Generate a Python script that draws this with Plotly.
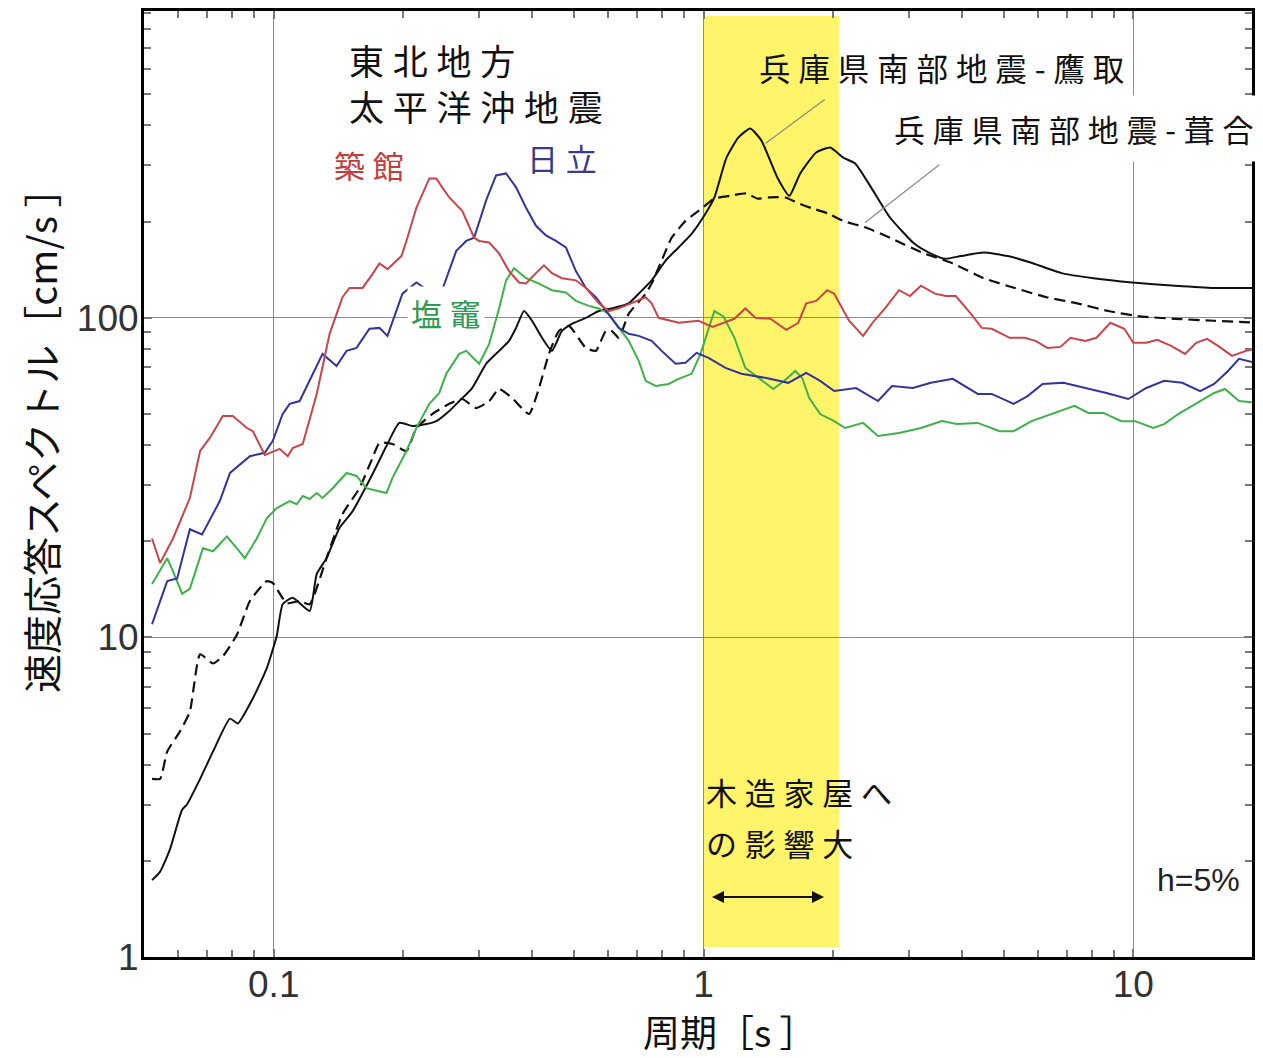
import math
import plotly.graph_objects as go

# ---------------- data (period [s], velocity response [cm/s]) ----------------
tsukidate_T = [0.0521, 0.0544, 0.0583, 0.0638, 0.0674, 0.0710, 0.0761, 0.0803, 0.0866, 0.0894,
               0.0953, 0.1032, 0.1078, 0.1107, 0.1168, 0.1259, 0.1349, 0.1445, 0.1500, 0.1609,
               0.1697, 0.1762, 0.1839, 0.1982, 0.2036, 0.2147, 0.2301, 0.2389, 0.2466, 0.2561,
               0.2745, 0.2926, 0.3006, 0.3171, 0.3344, 0.3528, 0.3722, 0.3864, 0.4076, 0.4254,
               0.4439, 0.4683, 0.5047, 0.5324, 0.5707, 0.6020, 0.6350, 0.6807, 0.7335, 0.7574,
               0.7862, 0.8747, 0.9737, 1.049, 1.180, 1.251, 1.320, 1.431, 1.558, 1.661,
               1.734, 1.829, 1.940, 2.014, 2.181, 2.351, 2.494, 2.644, 2.850, 3.022,
               3.205, 3.454, 3.664, 3.864, 4.188, 4.440, 4.684, 5.158, 5.586, 5.924,
               6.317, 6.771, 7.142, 7.738, 8.206, 8.845, 9.531, 10.0, 10.72, 11.37,
               12.25, 13.20, 14.00, 14.85, 15.75, 16.97, 18.29, 19.71]
tsukidate_V = [20.4, 17.1, 20.4, 27.3, 38.3, 42.1, 49.3, 49.3, 45.2, 44.2,
               37.2, 38.9, 36.9, 39.1, 40.3, 57.8, 89.1, 116, 124, 124,
               137, 148, 142, 156, 174, 221, 273, 273, 256, 238,
               216, 178, 174, 172, 159, 140, 129, 128, 138, 146,
               138, 133, 131, 124, 111, 105, 107, 111, 116, 111,
               100, 96.5, 97.9, 93.7, 99.3, 107, 100, 99.3, 91.7, 96.5,
               111, 113, 122, 119, 97.9, 87.8, 97.9, 107, 122, 117,
               126, 119, 117, 117, 103, 93.0, 92.4, 86.6, 86.6, 84.7,
               80.5, 81.1, 86.6, 84.7, 86.6, 96.5, 92.4, 83.5, 83.5, 85.3,
               81.7, 77.1, 83.5, 85.9, 81.7, 76.0, 78.8, 80.5]

hitachi_T = [0.0521, 0.0565, 0.0596, 0.0638, 0.0681, 0.0749, 0.0791, 0.0880, 0.0953, 0.0995,
             0.1049, 0.1089, 0.1149, 0.1299, 0.1400, 0.1477, 0.1558, 0.1670, 0.1762, 0.1839,
             0.1993, 0.2147, 0.2241, 0.2453, 0.2659, 0.2805, 0.2926, 0.3120, 0.3291, 0.3472,
             0.3663, 0.3864, 0.4076, 0.4299, 0.4535, 0.4784, 0.5047, 0.5324, 0.5616, 0.5925,
             0.6350, 0.6699, 0.7067, 0.7574, 0.7990, 0.8610, 0.9083, 0.9634, 1.027, 1.125,
             1.225, 1.400, 1.575, 1.734, 1.868, 2.014, 2.265, 2.547, 2.745, 3.070,
             3.381, 3.802, 4.346, 4.684, 5.269, 5.676, 6.151, 6.880, 7.738, 8.658,
             9.737, 10.72, 11.80, 13.00, 14.31, 15.42, 16.61, 17.62, 19.71]
hitachi_V = [11.0, 15.0, 15.3, 21.8, 21.0, 26.7, 32.7, 36.9, 37.8, 41.2,
             50.0, 53.8, 54.9, 77.1, 70.7, 78.8, 80.5, 92.4, 93.0, 87.8,
             119, 129, 124, 120, 162, 174, 178, 233, 279, 283,
             256, 221, 194, 181, 174, 166, 140, 124, 116, 105,
             93.0, 89.1, 87.8, 84.7, 78.8, 71.8, 72.3, 77.7, 74.9, 69.7,
             66.8, 64.8, 62.6, 67.3, 63.5, 59.0, 60.3, 54.9, 61.2, 60.3,
             62.6, 64.4, 57.8, 57.8, 53.8, 56.9, 62.1, 62.6, 60.3, 58.2,
             55.7, 60.3, 63.5, 62.6, 59.0, 62.1, 68.2, 74.4, 71.8]

shiogama_T = [0.0521, 0.0565, 0.0583, 0.0612, 0.0638, 0.0684, 0.0722, 0.0778, 0.0821, 0.0856,
              0.0913, 0.0963, 0.1016, 0.1089, 0.1131, 0.1168, 0.1212, 0.1259, 0.1299, 0.1371,
              0.1477, 0.1558, 0.1643, 0.1829, 0.1888, 0.2036, 0.2147, 0.2301, 0.2427, 0.2520,
              0.2702, 0.2805, 0.3006, 0.3171, 0.3344, 0.3472, 0.3624, 0.3864, 0.4142, 0.4439,
              0.4784, 0.5047, 0.5410, 0.5707, 0.6020, 0.6350, 0.6699, 0.7067, 0.7335, 0.7738,
              0.8294, 0.8747, 0.9380, 0.984, 1.027, 1.060, 1.113, 1.180, 1.251, 1.349,
              1.453, 1.542, 1.635, 1.697, 1.762, 1.868, 2.014, 2.135, 2.351, 2.547,
              2.850, 3.205, 3.586, 3.885, 4.346, 4.888, 5.269, 5.799, 6.488, 7.297,
              7.863, 8.520, 9.380, 10.11, 11.13, 11.80, 12.72, 14.31, 15.42, 16.35,
              17.62, 19.71]
shiogama_V = [14.7, 17.7, 16.1, 13.7, 14.2, 19.0, 18.6, 20.7, 19.0, 17.7,
              20.4, 23.6, 25.4, 26.7, 26.1, 27.7, 27.1, 28.3, 27.3, 29.3,
              32.7, 32.0, 29.3, 28.3, 31.5, 38.3, 45.2, 53.8, 58.2, 66.8,
              77.1, 78.8, 71.8, 82.9, 107, 131, 143, 133, 128, 122,
              120, 113, 109, 107, 103, 93.0, 84.7, 73.3, 63.5, 61.2,
              62.1, 64.4, 66.8, 77.1, 93.0, 105, 101, 86.6, 69.7, 64.4,
              59.9, 63.5, 68.2, 64.8, 56.1, 50.0, 47.5, 45.2, 46.9, 42.7,
              43.6, 45.2, 47.5, 46.5, 46.9, 44.2, 44.2, 47.5, 50.0, 53.0,
              50.4, 50.4, 47.5, 47.5, 45.2, 46.5, 50.0, 54.9, 58.2, 59.9,
              54.9, 54.1]

takatori_T = [0.0521, 0.0544, 0.0574, 0.0612, 0.0628, 0.0674, 0.0722, 0.0791, 0.0825, 0.0894,
              0.0963, 0.1016, 0.1049, 0.1107, 0.1212, 0.1259, 0.1327, 0.1422, 0.1525, 0.1697,
              0.1829, 0.1960, 0.2102, 0.2265, 0.2389, 0.2561, 0.2702, 0.2895, 0.3120, 0.3344,
              0.3528, 0.3663, 0.3823, 0.3990, 0.4209, 0.4439, 0.4683, 0.4940, 0.5324, 0.5707,
              0.6117, 0.6699, 0.7067, 0.7574, 0.8162, 0.8747, 0.9380, 1.011, 1.060, 1.131,
              1.206, 1.285, 1.363, 1.485, 1.584, 1.679, 1.829, 1.971, 2.113, 2.253,
              2.454, 2.716, 3.087, 3.345, 3.644, 3.969, 4.487, 5.103, 5.768, 6.807,
              8.075, 9.947, 12.52, 15.42, 19.71]
takatori_V = [1.74, 1.85, 2.18, 2.89, 3.0, 3.61, 4.39, 5.57, 5.38, 6.44,
              8.0, 10.1, 12.7, 13.3, 12.1, 15.8, 17.7, 22.0, 24.8, 32.4,
              39.7, 46.9, 45.9, 46.5, 47.5, 51.1, 54.9, 60.3, 71.8, 78.8,
              84.7, 93.0, 105, 97.9, 86.6, 78.8, 91.0, 95.8, 100, 105,
              107, 111, 119, 131, 151, 166, 183, 212, 238, 317,
              367, 391, 359, 275, 241, 283, 329, 341, 317, 304,
              256, 206, 171, 160, 153, 156, 160, 156, 149, 138,
              133, 129, 126, 124, 124]

fukiai_T = [0.0521, 0.0544, 0.0565, 0.0605, 0.0638, 0.0674, 0.0722, 0.0761, 0.0821, 0.0880,
            0.0963, 0.0995, 0.1072, 0.1149, 0.1212, 0.1327, 0.1445, 0.1583, 0.1697, 0.1762,
            0.1888, 0.2036, 0.2147, 0.2338, 0.2561, 0.2745, 0.2958, 0.3171, 0.3344, 0.3585,
            0.3926, 0.4142, 0.4368, 0.4609, 0.4861, 0.5324, 0.5616, 0.5925, 0.6117, 0.6350,
            0.6699, 0.7335, 0.7574, 0.7990, 0.8430, 0.9083, 0.9737, 1.060, 1.155, 1.258,
            1.335, 1.423, 1.550, 1.652, 1.790, 1.950, 2.113, 2.402, 2.716, 3.222,
            3.802, 4.487, 5.297, 6.283, 7.415, 8.750, 10.38, 12.52, 15.42, 19.71]
fukiai_V = [3.61, 3.61, 4.39, 5.08, 5.86, 8.85, 8.29, 8.72, 10.2, 13.0,
            15.0, 14.8, 12.8, 13.0, 12.7, 17.7, 24.3, 29.3, 36.4, 40.6,
            40.3, 38.3, 45.2, 50.0, 53.8, 55.7, 52.2, 54.9, 59.9, 56.1,
            50.0, 60.3, 77.1, 91.0, 94.4, 80.5, 78.8, 91.0, 91.0, 86.6,
            103, 119, 128, 151, 178, 201, 216, 236, 241, 245,
            236, 238, 238, 229, 220, 212, 201, 191, 178, 160,
            148, 133, 124, 116, 111, 105, 101, 99.3, 97.9, 96.5]

x_tickvals = [0.1, 1, 10]
x_ticktext = ["0.1", "1", "10"]
y_tickvals = [1, 10, 100]
y_ticktext = ["1", "10", "100"]
x_minor = [0.06, 0.07, 0.08, 0.09, 0.2, 0.3, 0.4, 0.5, 0.6, 0.7, 0.8, 0.9,
           2, 3, 4, 5, 6, 7, 8, 9]
y_minor = [2, 3, 4, 5, 6, 7, 8, 9, 20, 30, 40, 50, 60, 70, 80, 90,
           200, 300, 400, 500, 600, 700, 800, 900]

# ---------------- styling ----------------
RED = "#c8454a"
BLUE = "#34349a"
GREEN = "#3fb14a"
BLACK = "#111111"
CJK = "Noto Sans CJK JP"
LAT = "Liberation Sans, Arial, sans-serif"
SP = "\u2005"


def spaced(s):
    return SP.join(list(s))


fig = go.Figure()

fig.add_trace(go.Scatter(x=fukiai_T, y=fukiai_V, mode="lines",
                         line=dict(color=BLACK, width=2.2, dash="11px,6px", shape="spline", smoothing=0.5),
                         showlegend=False))
fig.add_trace(go.Scatter(x=takatori_T, y=takatori_V, mode="lines",
                         line=dict(color=BLACK, width=2, shape="spline", smoothing=0.5),
                         showlegend=False))
fig.add_trace(go.Scatter(x=shiogama_T, y=shiogama_V, mode="lines",
                         line=dict(color=GREEN, width=2), showlegend=False))
fig.add_trace(go.Scatter(x=hitachi_T, y=hitachi_V, mode="lines",
                         line=dict(color=BLUE, width=2), showlegend=False))
fig.add_trace(go.Scatter(x=tsukidate_T, y=tsukidate_V, mode="lines",
                         line=dict(color=RED, width=2), showlegend=False))

# yellow band (period 1-2 s) drawn beneath grid lines
fig.add_shape(type="rect", xref="x", yref="y", x0=1.0, x1=2.07, y0=1.075, y1=880,
              fillcolor="#fff46a", line=dict(width=0), layer="below")

L = math.log10
annots = [
    dict(x=L(0.148), y=L(644), text=spaced("東北地方"), xanchor="left", size=35, color=BLACK),
    dict(x=L(0.148), y=L(462), text=spaced("太平洋沖地震"), xanchor="left", size=35, color=BLACK),
    dict(x=L(0.167), y=L(302), text=spaced("築館"), xanchor="center", size=31, color="#c0403f"),
    dict(x=L(0.468), y=L(317), text=spaced("日立"), xanchor="center", size=31, color="#3a3a8a"),
    dict(x=L(1.335), y=L(608), text=spaced("兵庫県南部地震") + SP + "-" + SP + spaced("鷹取"),
         xanchor="left", size=31.5, color=BLACK),
    dict(x=L(1.0), y=L(3.29), text=spaced("木造家屋へ"), xanchor="left", size=31, color=BLACK),
    dict(x=L(1.0), y=L(2.29), text=spaced("の影響大"), xanchor="left", size=31, color=BLACK),
]
for a in annots:
    fig.add_annotation(x=a["x"], y=a["y"], xref="x", yref="y", text=a["text"], showarrow=False,
                       xanchor=a["xanchor"], yanchor="middle",
                       font=dict(family=CJK, size=a["size"], color=a["color"]))

# labels with a white box behind them
fig.add_annotation(x=L(0.252), y=L(104), xref="x", yref="y", text=spaced("塩竈"), showarrow=False,
                   xanchor="center", yanchor="middle", bgcolor="white", borderpad=3,
                   font=dict(family=CJK, size=31, color="#2e9a55"))
fig.add_annotation(x=L(2.62), y=L(391), xref="x", yref="y",
                   text=spaced("兵庫県南部地震") + SP + "-" + SP + spaced("葺合"), showarrow=False,
                   xanchor="left", yanchor="middle", bgcolor="white", borderpad=10,
                   font=dict(family=CJK, size=31, color=BLACK))

fig.add_annotation(x=L(17.9), y=L(1.74), xref="x", yref="y", text="h=5%", showarrow=False,
                   xanchor="right", yanchor="middle",
                   font=dict(family=LAT, size=32, color="#222222"))

# leader lines
fig.add_annotation(x=L(1.393), y=L(351), ax=L(1.930), ay=L(486), xref="x", yref="y",
                   axref="x", ayref="y", text="", showarrow=True, arrowhead=0,
                   arrowwidth=1.2, arrowcolor="#8a8a8a")
fig.add_annotation(x=L(2.376), y=L(198.6), ax=L(3.566), ay=L(304), xref="x", yref="y",
                   axref="x", ayref="y", text="", showarrow=True, arrowhead=0,
                   arrowwidth=1.2, arrowcolor="#8a8a8a")

# double-headed arrow for the 1-2 s range
fig.add_annotation(x=L(1.907), y=L(1.54), ax=L(1.038), ay=L(1.54), xref="x", yref="y",
                   axref="x", ayref="y", text="", showarrow=True, arrowhead=2,
                   arrowside="end+start", arrowsize=1.2, arrowwidth=2, arrowcolor=BLACK)

# axis titles
fig.add_annotation(x=0.529, y=-0.0785, xref="paper", yref="paper", text="周期［s ］",
                   showarrow=False, xanchor="center", yanchor="middle",
                   font=dict(family=CJK, size=37, color=BLACK))
fig.add_annotation(x=-0.094, y=0.557, xref="paper", yref="paper",
                   text="速度応答スペクトル［cm/s ］", textangle=-90,
                   showarrow=False, xanchor="center", yanchor="middle",
                   font=dict(family=CJK, size=39, color=BLACK))

axis_common = dict(
    type="log", showline=True, linecolor="black", linewidth=3, mirror="allticks",
    ticks="inside", ticklen=8, tickwidth=1.5, tickcolor="#777777",
    showgrid=True, gridcolor="#8c8c8c", gridwidth=1.2, zeroline=False,
    tickfont=dict(family=LAT, size=37, color="#333333"),
    tickmode="array",
)
fig.update_xaxes(**axis_common, range=[L(0.0499), L(18.89)], tickvals=x_tickvals, ticktext=x_ticktext,
                 ticklabelstandoff=-7,
                 minor=dict(tickmode="array", tickvals=x_minor, ticks="inside", ticklen=7,
                            tickwidth=1.5, tickcolor="#777777", showgrid=False))
fig.update_yaxes(**axis_common, range=[0, 2.96], tickvals=y_tickvals, ticktext=y_ticktext,
                 ticklabelstandoff=-5,
                 minor=dict(tickmode="array", tickvals=y_minor, ticks="inside", ticklen=7,
                            tickwidth=1.5, tickcolor="#777777", showgrid=False))

# the page body has an 8px margin: size the figure so the plot lands where it should
fig.update_layout(width=1247, height=1050, margin=dict(l=136, r=0, t=3, b=101),
                  plot_bgcolor="white", paper_bgcolor="white", showlegend=False)

fig.write_html("out.html")
